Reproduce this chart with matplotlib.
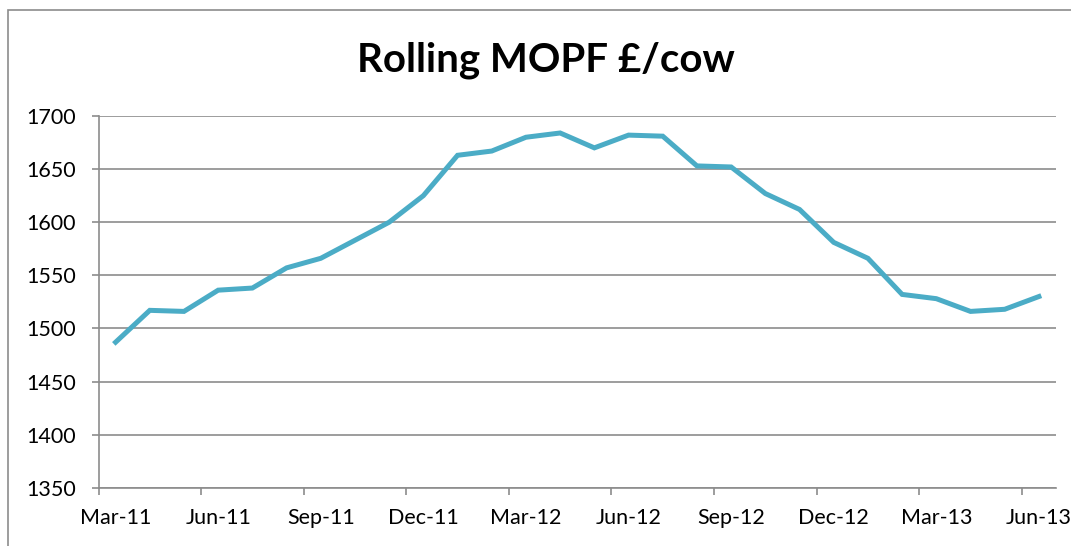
# Rolling MOPF £/cow, monthly from Mar-11 to Jun-13

import numpy as np
import matplotlib.pyplot as plt
from matplotlib.patches import Rectangle

months = ['Mar-11', 'Apr-11', 'May-11', 'Jun-11', 'Jul-11', 'Aug-11', 'Sep-11',
          'Oct-11', 'Nov-11', 'Dec-11', 'Jan-12', 'Feb-12', 'Mar-12', 'Apr-12',
          'May-12', 'Jun-12', 'Jul-12', 'Aug-12', 'Sep-12', 'Oct-12', 'Nov-12',
          'Dec-12', 'Jan-13', 'Feb-13', 'Mar-13', 'Apr-13', 'May-13', 'Jun-13']
mopf = [1487, 1517, 1516, 1536, 1538, 1557, 1566, 1583, 1600, 1625, 1663, 1667,
        1680, 1684, 1670, 1682, 1681, 1653, 1652, 1627, 1612, 1581, 1566, 1532,
        1528, 1516, 1518, 1530]
tick_labels = months[::3]

plt.rcParams['font.family'] = ['Lato', 'DejaVu Sans']

fig = plt.figure(figsize=(10.71, 5.46), dpi=100)
ax = fig.add_axes([98.5 / 1071, 1 - 487.7 / 546, (1056 - 98.5) / 1071, (487.7 - 116) / 546])

# 外枠
fig.patches.append(Rectangle((8 / 1071, -0.5), 2, 1.5 - 10 / 546, transform=fig.transFigure,
                             fill=False, edgecolor='#8c8c8c', linewidth=1.2))

# 月の中央に点を置く
x = np.arange(len(months)) + 0.5
ax.plot(x, mopf, color='#4BACC6', linewidth=3.6, solid_joinstyle='miter')

ax.set_xlim(0, len(months))
ax.set_ylim(1350, 1700)
ax.set_yticks(np.arange(1350, 1701, 50))
# 目盛り線は月初、ラベルは月の中央
ax.set_xticks(np.arange(0, len(months), 3))
ax.set_xticklabels([])
ax.set_xticks(x[::3], minor=True)
ax.set_xticklabels(tick_labels, minor=True)
ax.yaxis.grid(True, color='#8c8c8c', linewidth=1.2)
ax.set_axisbelow(True)

for s in ['top', 'right']:
    ax.spines[s].set_visible(False)
for s in ['left', 'bottom']:
    ax.spines[s].set_color('#8c8c8c')
    ax.spines[s].set_linewidth(1.2)
ax.tick_params(axis='both', colors='#8c8c8c', length=5, width=1.2, labelsize=15.5,
               labelcolor='black')
ax.tick_params(axis='y', pad=11)
ax.tick_params(axis='x', which='minor', length=0, pad=14.5, labelsize=15.5)

fig.text(0.51, 1 - 60 / 546, 'Rolling MOPF £/cow', ha='center', va='center',
         fontsize=29, fontweight='bold')

plt.savefig('out.png', dpi=100)
